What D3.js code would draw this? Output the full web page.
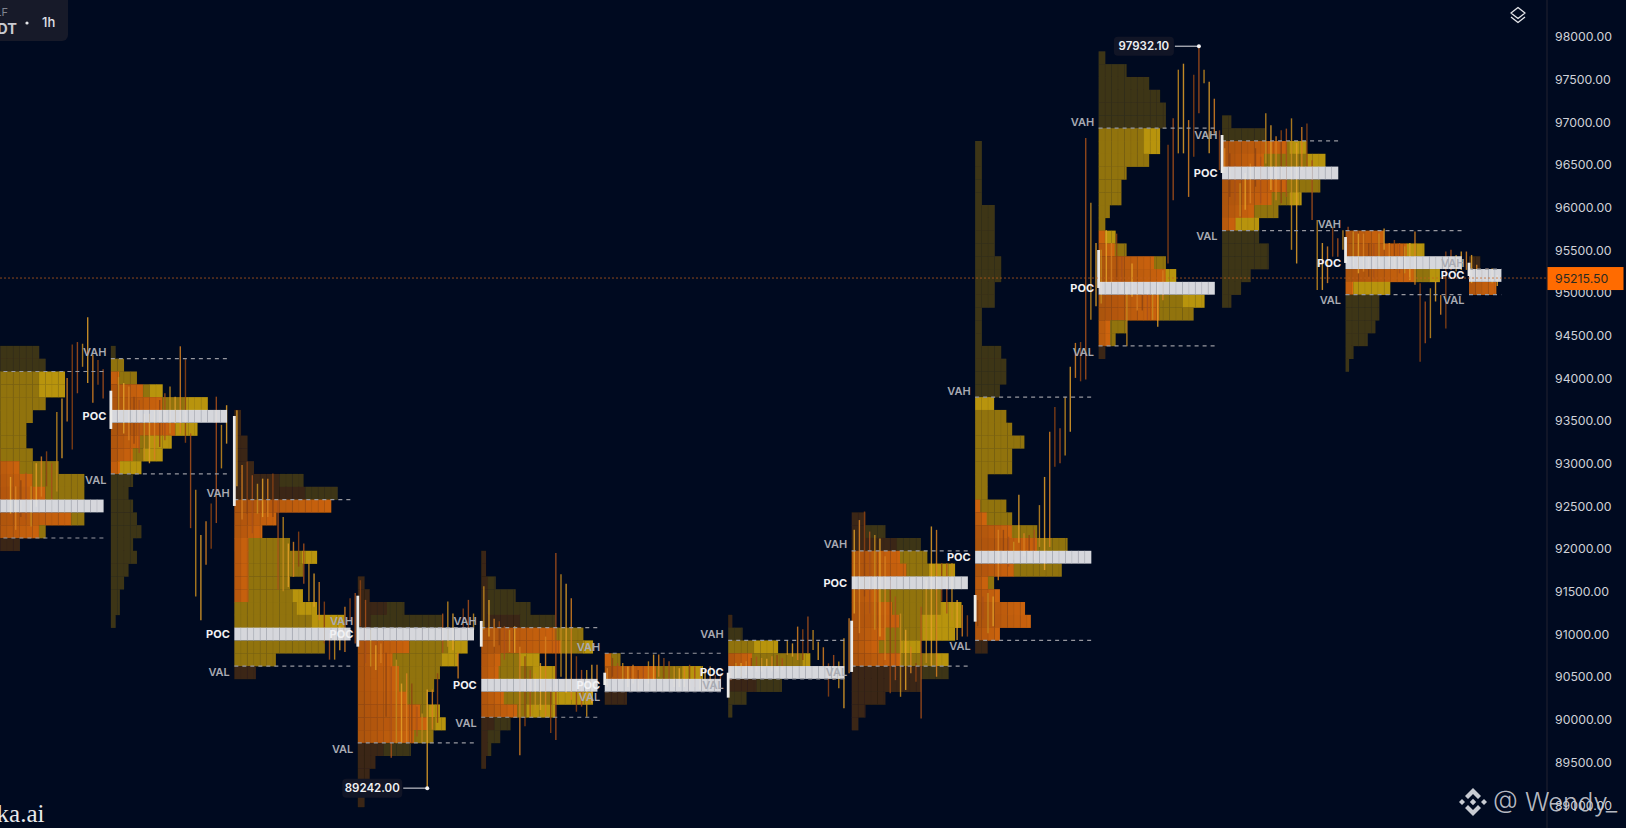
<!DOCTYPE html>
<html>
<head>
<meta charset="utf-8">
<script src="https://cdn.jsdelivr.net/npm/d3@7"></script>
<style>
  html, body { margin: 0; padding: 0; background: #000a20; overflow: hidden; }
</style>
</head>
<body>
<svg id="chart" width="1626" height="828" font-family="Inter, 'Noto Sans', sans-serif"></svg>
<script>
// axis
var tickLabels = [89000,89500,90000,90500,91000,91500,92000,92500,93000,93500,94000,94500,95000,95500,96000,96500,97000,97500,98000];
var lastPrice = 95215.5;
var sessionHighLabel = { session: 9, candle: 19, price: 97932.10 };
var sessionLowLabel = { session: 3, candle: 13, price: 89242.00 };

// price of the top edge of row 0, every row is one bin of 150
var binTop = 94265;
var binSize = 150;

// one profile per session: first row, row volumes in columns, where the orange part ends, where the gold part starts
var rowFirst = [-1,-1,4,17,15,23,20,12,-17,-24,-19,-10,-8];
var rowVol = [
  [8,9,12,12,9,7,6,6,7,11,15,15,18,15,9,5],
  [0.7,2,4,8,15,18,13.4,9.4,8,4.7,3.4,2.7,3.4,4,4.7,3.4,4,2.7,2,1.35,1.35,0.7],
  [1,1,2,2,3,10.7,16,15,6.5,4.3,8.6,12.8,10.6,8.6,10.6,12.8,17,18,14,6.4,3.3],
  [1,1.8,7.2,13.2,18,17,15.5,12.7,11.8,10.8,12.7,13.6,11.7,8.2,2.7,1.8,1.8,1],
  [0.7,0.7,2.2,5.3,7.6,11.4,15.8,17.3,9,11.4,18,17.3,11.4,4.5,2.9,1.5,0.7],
  [2.4,15.2,18,3.4],
  [0.6,2.2,7.7,12.7,18,8.3,2.8,0.6],
  [2.1,5.2,10.7,11.7,16,18,13.8,17,17,16,10.7,15,15,10.7,5.2,2.1,1],
  [1,1,1,1,1,3,3,3,3,4,4,3,3,1,1,1,4,4.8,4.8,3.8,2.9,4.8,5.7,7.6,5.7,5.7,1.9,1.9,4.8,5.7,9.6,14.3,18,13.4,2.9,3.8,7.7,8.6,3.8,1.9],
  [1,4.3,7.8,9.5,10.4,10.4,9.5,9.5,7.8,4.3,3.5,3.5,1.7,1,2.6,4.3,10.4,12,18,16.4,14.7,4.3,2.6,1],
  [1.4,6.6,13.1,16,18,15.2,12.3,8.7,5.7,5.7,7.2,7.2,4.4,2.9,1.4],
  [5.9,12.2,18,14.6,6.9,5.2,5.2,4.6,3.4,1.2,0.5],
  [1.7,5,4.2]
];
var rowOrange = [
  [0,0,0,0,0,0,0,0,2,5,7,9,0,13,8,5],
  [0,0,1.3,5,8,0,10,4.5,3.4,1.4,0,0,0,0,0,0,0,0,0,0,0,0],
  [1,1,2,2,3,7,11,15,6.5,4.3,2.2,2.2,2.2,2.2,2.2,0,0,0,0,0,3.3],
  [1,1.8,4.5,2,0,8,5.4,6.4,6.4,7.6,9.7,10.8,8.7,4,2.7,1.8,1.8,1],
  [0.7,0.7,1,1,1,6,11.4,12.4,3,2.7,0,3.5,5.6,2,1,1,0.7],
  [1,8,0,3.4],
  [0.6,0,0,3.7,0,4.4,0,0],
  [2.1,2.1,7,7.5,8.5,0,4.2,6.3,7.4,5.2,4.2,7.5,10.7,10.7,5.2,2.1,1],
  [0,0,0,0,0,0,0,0,0,0,0,0,0,0,0,0,0,0,0,0,0,0,0,0,0,0,0,0,0.8,1.8,5.7,9.6,0,6,2,3.8,7.7,8.6,3.8,1.9],
  [0,0,0,0,0,0,0,0,0,0,0,0,0,0,1,2.5,8.6,10.4,0,9.4,9.4,1.8,1.8,1],
  [0,0,10,6.5,0,10,7.7,5,2.1,0,0,0,0,0,0],
  [5.9,9.5,0,10.6,1.2,0,0,0,0,0,0],
  [1.7,0,4.2]
];
var rowGold = [
  [8,9,8,8,9,7,6,6,7,11,15,15,18,15,9,5],
  [0.7,2,4,6,11.4,18,10,6,5,1.4,3.4,2.7,3.4,4,4.7,3.4,4,2.7,2,1.35,1.35,0.7],
  [1,1,2,2,3,10.7,16,15,6.5,4.3,8.6,10.5,10.6,8.6,9,9.7,12,18,14,6.4,3.3],
  [1,1.8,7.2,13.2,18,14,13,12.7,11.8,10.8,11,12,11.7,8.2,2.7,1.8,1.8,1],
  [0.7,0.7,2.2,5.3,7.6,11.4,15.8,15.8,6,8,18,11,7,4.5,2.9,1.5,0.7],
  [2.4,12,18,3.4],
  [0.6,2.2,4,11.5,18,8.3,2.8,0.6],
  [2.1,5.2,10.7,11.7,12,18,13.8,13.8,10.7,10.7,7.5,13,15,10.7,5.2,2.1,1],
  [1,1,1,1,1,3,3,3,3,4,4,3,3,1,1,1,4,4.8,4.8,3.8,0,4.8,5.7,7.6,5.7,5.7,1.9,1.9,4.8,5.7,9.6,14.3,18,13.4,2.9,3.8,7.7,8.6,3.8,1.9],
  [1,4.3,7.8,9.5,10.4,10.4,7,7,7.8,4.3,3.5,3.5,1.7,1,1,4.3,10.4,10.4,18,13,14.7,4.3,2.6,1],
  [1.4,6.6,10.5,13,18,15.2,10.5,8.7,2.1,5.7,7.2,7.2,4.4,2.9,1.4],
  [5.9,9.5,18,13,1.2,5.2,5.2,4.6,3.4,1.2,0.5],
  [1.7,5,4.2]
];
var vahRow = [1,0,11,21,21,23,22,15,3,-18,-17,-10,-7];
var pocRow = [11,4,21,21,25,25,24,17,15,-6,-15,-8,-7];
var valRow = [14,9,24,30,28,26,25,24,22,-1,-10,-5,-5];

// session open and close, the white bar at the left of a profile
var openPrice = [null,93890,93594,91489,91193,90587,90587,91196,91497,95538,96885,95690,95389];
var closePrice = [null,93442,92540,90892,90892,90443,90295,90596,91185,95093,96440,95386,95233];

// hourly wicks per session, first candle that shows and then highs and lows
var wickFirst = [4,1,0,0,0,0,0,0,0,0,0,0,0];
var wickHigh = [
  [92880,92770,92840,92930,92770,93040,93120,93180,93040,93640,93800,94040,94430,94460,94440,94750,94310,94250,94140],
  [94050,93980,93940,93820,93780,93620,93620,93660,93780,93860,93940,93820,94410,94260,93390,92730,92200,92360,92570,93820,93490,93720],
  [93660,93020,93060,92900,92800,92860,92860,92920,92610,92410,92100,92120,92240,92100,91910,91750,91650,91420,91050,91090,91130,91360,91460,91520],
  [91670,91440,91090,90910,90930,90820,90660,90740,90460,90580,90460,90190,90110,90390,90390,90580,91280,91420,91280,90820,91340,91440,91280],
  [91600,91440,91220,91190,91130,91090,91130,90890,90780,90620,90580,90700,91010,90420,91990,91740,91630,91460,90780,90620,90620,90680,90680],
  [90640,90760,90700,90700,90660,90680,90620,90660,90720,90800,90800,90760,90720,90660,90640,90660,90680,90660,90640,90620,90660,90560,90580],
  [90680,90700,90700,90720,90760,90775,90760,90750,90780,90795,90760,90970,90930,91127,91095,91244,91088,90951,90885,90697,90795,90717,90990,91224],
  [92260,92375,92475,92240,92200,92160,91950,91670,91480,91280,91090,90890,90700,91360,91670,92300,92260,91870,91870,91870,91440,91380,91260],
  [91440,91480,91520,91480,92260,92260,92180,92120,92670,92220,92200,92260,92550,92880,93410,93700,93450,93820,94170,94450,94460,96850,96090,95620],
  [95540,95770,95620,95730,95460,95110,95380,95150,95030,95070,95030,95150,95300,96770,97080,97650,97720,97060,97590,97932.1,97650,97510,97310,96940],
  [96730,96670,96550,96320,96440,96550,96730,96630,97140,97000,96870,96940,96960,97080,96790,96980,97020,96590,95890,95620,95580,95810,95675,95770],
  [95810,95755,95730,95730,95620,95620,95730,95790,95620,95655,95620,95580,95620,95755,95150,94935,95090,95170,95010,95520,95540,95480,95520,95520],
  [95480,95365,95305,95325,95325,95245]
];
var wickLow = [
  [92450,92260,92410,92380,92300,92530,92650,92770,92610,92710,93100,93530,93200,93860,94170,93980,93750,93960,93800],
  [93550,93390,93310,93270,93160,93080,93040,93080,93230,93310,93390,93510,93390,93280,92280,91480,91200,91850,92040,92340,92980,93270],
  [92770,92380,92450,92220,92450,92410,92410,92410,91560,91540,91590,91710,91830,91630,91420,91360,91200,90930,90740,90740,90850,90830,91200,90930],
  [91130,90700,90660,90620,90700,90070,89590,89760,89760,89760,89760,89840,89760,89242,89920,90000,90820,90890,90850,90520,91090,91090,91090],
  [91090,91010,90890,90910,90740,90830,90820,89620,89960,90070,90150,90150,90070,89880,89800,90540,90350,90270,90130,90190,90070,90230,90420],
  [90420,90540,90500,90500,90420,90460,90390,90500,90460,90500,90540,90500,90500,90420,90420,90420,90390,90420,90390,90390,90420,90390,90390],
  [90500,90540,90540,90560,90620,90600,90600,90640,90600,90600,90620,90795,90775,90736,90736,90814,90853,90736,90666,90307,90502,90404,90170,90580],
  [91280,91050,91480,91280,91090,91010,90735,90345,90500,90305,90385,90580,90480,90050,90700,90660,90540,91420,91280,91200,90970,91010,91010],
  [91130,91210,91050,91130,91670,91870,91830,91910,92110,91950,91910,91910,92060,91790,92060,93000,93040,93130,93410,94040,94000,94020,94720,94880],
  [94910,95150,95150,95190,95070,94410,94990,94830,94830,94720,94720,94640,94950,95380,96120,96670,96670,96160,96630,97140,97490,96670,96900,96475],
  [96440,96160,96120,95930,96010,96085,96280,96085,96550,96240,96120,96085,96160,95540,95380,96475,96475,95890,95070,95070,95150,95460,95460,95540],
  [95380,95345,95265,95285,95225,95205,95345,95540,95345,95305,95265,95265,95185,95130,94230,94445,94505,94935,94780,94620,95305,95285,95305,95305],
  [95150,95185,95185,95170,95150,95115]
];

var width = 1626, height = 828;
var axisX = 1547;

var colorOrangeDark = "#a9520f", colorOrange = "#c9620a", colorOlive = "#917310", colorGold = "#b8940b";
var colorBrown = "#3b2615", colorDarkOlive = "#3d3518", colorPoc = "#e2e3e7";
var wickColors = ["#d88020","#a8501a","#e4a028","#8d4312","#c68b1e"];

var svg = d3.select("#chart");
svg.append("rect").attr("width", width).attr("height", height).attr("fill", "#000a20");

// the picture is a bit soft, the profile cells get the same softness
var soft = svg.append("defs").append("filter").attr("id", "soft")
  .attr("x", "-5%").attr("y", "-5%").attr("width", "110%").attr("height", "110%");
soft.append("feGaussianBlur").attr("stdDeviation", 0.35);

var y = d3.scaleLinear().domain([98000, 89000]).range([39.8, 808.2]);
var sessionX = d3.scaleLinear().domain([0, 12]).range([-12.6, 1469]);
var colX = d3.scaleLinear().domain([0, 18]).range([0, 116]);
var candleX = d3.scaleLinear().domain([0, 24]).range([0, 123.45]);

function rowTop(k) { return binTop - k * binSize; }
function rowY(k) { return y(rowTop(k)); }
var rowH = rowY(1) - rowY(0);

var sessions = d3.range(rowFirst.length);

// cells, one per column per zone
var cells = [];
var pocCells = [];
sessions.forEach(function(s) {
  rowVol[s].forEach(function(vol, n) {
    var k = rowFirst[s] + n;
    if (k === pocRow[s]) {
      d3.range(Math.ceil(vol)).forEach(function(c) {
        pocCells.push({ s: s, k: k, a: c, b: Math.min(c + 1, vol) });
      });
      return;
    }
    var inValue = k >= vahRow[s] && k < valRow[s];
    var oEnd = Math.min(rowOrange[s][n], vol);
    var gStart = Math.max(Math.min(rowGold[s][n], vol), oEnd);
    var zones = inValue
      ? [[0, oEnd, "o"], [oEnd, gStart, colorOlive], [gStart, vol, colorGold]]
      : [[0, oEnd, colorBrown], [oEnd, vol, colorDarkOlive]];
    zones.forEach(function(z) {
      if (z[1] <= z[0]) return;
      d3.range(Math.floor(z[0]), Math.ceil(z[1])).forEach(function(c) {
        var fill = z[2];
        if (fill === "o") fill = d3.interpolateRgb(colorOrangeDark, colorOrange)((c + 1) / Math.max(oEnd, 1));
        cells.push({ s: s, k: k, a: Math.max(c, z[0]), b: Math.min(c + 1, z[1]), fill: fill });
      });
    });
  });
});

svg.append("g").attr("filter", "url(#soft)").selectAll("rect")
  .data(cells)
  .enter()
  .append("rect")
    .attr("x", function(d) { return sessionX(d.s) + colX(d.a); })
    .attr("y", function(d) { return rowY(d.k); })
    .attr("width", function(d) { return colX(d.b) - colX(d.a) + 0.3; })
    .attr("height", rowH + 0.3)
    .attr("fill", function(d) { return d.fill; });

// faint column lines inside the profile
svg.append("g").selectAll("line")
  .data(cells.filter(function(d) { return d.a === Math.floor(d.a) && d.a > 0; }))
  .enter()
  .append("line")
    .attr("x1", function(d) { return sessionX(d.s) + colX(d.a); })
    .attr("x2", function(d) { return sessionX(d.s) + colX(d.a); })
    .attr("y1", function(d) { return rowY(d.k); })
    .attr("y2", function(d) { return rowY(d.k) + rowH; })
    .attr("stroke", "#000a20")
    .attr("stroke-width", 0.7)
    .attr("opacity", 0.09);

// wicks
var wicks = [];
sessions.forEach(function(s) {
  wickHigh[s].forEach(function(h, n) {
    wicks.push({ s: s, i: wickFirst[s] + n, high: h, low: wickLow[s][n] });
  });
});

svg.append("g").selectAll("line")
  .data(wicks)
  .enter()
  .append("line")
    .attr("x1", function(d) { return sessionX(d.s) + candleX(d.i + 0.5); })
    .attr("x2", function(d) { return sessionX(d.s) + candleX(d.i + 0.5); })
    .attr("y1", function(d) { return y(d.high); })
    .attr("y2", function(d) { return y(d.low); })
    .attr("stroke", function(d) { return wickColors[(d.i * 3 + d.s) % wickColors.length]; })
    .attr("stroke-width", 1.4)
    .attr("opacity", 0.85);

// POC bars
var pocG = svg.append("g").attr("opacity", 0.95);
pocG.selectAll("rect")
  .data(pocCells)
  .enter()
  .append("rect")
    .attr("x", function(d) { return sessionX(d.s) + colX(d.a); })
    .attr("y", function(d) { return rowY(d.k); })
    .attr("width", function(d) { return colX(d.b) - colX(d.a) + 0.2; })
    .attr("height", rowH)
    .attr("fill", colorPoc);
pocG.selectAll("line")
  .data(pocCells.filter(function(d) { return d.a > 0; }))
  .enter()
  .append("line")
    .attr("x1", function(d) { return sessionX(d.s) + colX(d.a); })
    .attr("x2", function(d) { return sessionX(d.s) + colX(d.a); })
    .attr("y1", function(d) { return rowY(d.k); })
    .attr("y2", function(d) { return rowY(d.k) + rowH; })
    .attr("stroke", "#a9abb3")
    .attr("stroke-width", 0.7)
    .attr("opacity", 0.55);

// VAH and VAL dashes
var levels = [];
sessions.forEach(function(s) {
  var len = d3.max(rowVol[s]);
  levels.push({ s: s, k: vahRow[s], len: len, name: "VAH" });
  levels.push({ s: s, k: valRow[s], len: len, name: "VAL" });
});

svg.append("g").selectAll("line")
  .data(levels)
  .enter()
  .append("line")
    .attr("x1", function(d) { return sessionX(d.s); })
    .attr("x2", function(d) { return sessionX(d.s) + colX(d.len); })
    .attr("y1", function(d) { return rowY(d.k); })
    .attr("y2", function(d) { return rowY(d.k); })
    .attr("stroke", "#97989f")
    .attr("stroke-width", 1.2)
    .attr("stroke-dasharray", "4 4");

// open close bars
svg.append("g").selectAll("rect")
  .data(sessions.filter(function(s) { return openPrice[s] !== null; }))
  .enter()
  .append("rect")
    .attr("x", function(s) { return sessionX(s) - 1.4; })
    .attr("y", function(s) { return y(openPrice[s]); })
    .attr("width", 2.8)
    .attr("height", function(s) { return y(closePrice[s]) - y(openPrice[s]); })
    .attr("fill", "#ecebe8");

// labels left of the profile
var labels = svg.append("g")
  .attr("font-size", 11)
  .attr("font-weight", 600)
  .attr("text-anchor", "end");

labels.selectAll(".lvl")
  .data(levels)
  .enter()
  .append("text")
    .attr("class", "lvl")
    .attr("x", function(d) { return sessionX(d.s) - 4.5; })
    .attr("y", function(d) { return rowY(d.k) + (d.name === "VAH" ? -6.3 : 5.7); })
    .attr("dy", "0.36em")
    .attr("fill", "#a9abb3")
    .text(function(d) { return d.name; });

labels.selectAll(".poc")
  .data(sessions)
  .enter()
  .append("text")
    .attr("class", "poc")
    .attr("x", function(s) { return sessionX(s) - 4.5; })
    .attr("y", function(s) { return rowY(pocRow[s]) + rowH / 2; })
    .attr("dy", "0.36em")
    .attr("fill", "#f2f2f4")
    .attr("font-weight", 700)
    .text("POC");

// last price line
svg.append("line")
  .attr("x1", 0).attr("x2", axisX)
  .attr("y1", y(lastPrice) + 0.5).attr("y2", y(lastPrice) + 0.5)
  .attr("stroke", "#c4621c")
  .attr("stroke-width", 0.9)
  .attr("stroke-opacity", 0.8)
  .attr("stroke-dasharray", "2 2");

// price axis
var axis = d3.axisRight(y)
  .tickValues(tickLabels)
  .tickSize(0)
  .tickPadding(8)
  .tickFormat(d3.format(".2f"));

var axisG = svg.append("g")
  .attr("transform", "translate(" + axisX + ",0)")
  .call(axis);
axisG.select(".domain").attr("stroke", "#171b2b").attr("stroke-width", 1.5).attr("d", "M0,0V" + height);
axisG.selectAll("text")
  .attr("font-family", "Inter")
  .attr("font-size", 12.3)
  .attr("fill", "#cfd1d8")
  .attr("transform", "translate(0,-3.1)");

// last price tag
var tag = svg.append("g").attr("transform", "translate(" + axisX + "," + y(lastPrice) + ")");
tag.append("rect").attr("x", 0.5).attr("y", -10.5).attr("width", 76).attr("height", 23).attr("fill", "#ff6b00");
tag.append("text").attr("x", 8).attr("y", 0.8).attr("dy", "0.36em").attr("font-size", 12.3).attr("fill", "#2c2a20").text(d3.format(".2f")(lastPrice));

// session high and low tags
[sessionHighLabel, sessionLowLabel].forEach(function(m) {
  var px = sessionX(m.session) + candleX(m.candle + 0.5);
  var py = y(m.price) + 0.6;
  svg.append("rect").attr("x", px - 85).attr("y", py - 9.5).attr("width", 60).attr("height", 19).attr("rx", 4).attr("fill", "#111526");
  svg.append("text").attr("x", px - 55).attr("y", py).attr("dy", "0.36em").attr("text-anchor", "middle")
    .attr("font-size", 11.5).attr("font-weight", 600).attr("fill", "#eef0f3").text(d3.format(".2f")(m.price));
  svg.append("line").attr("x1", px - 24).attr("x2", px).attr("y1", py).attr("y2", py).attr("stroke", "#e6e7ea").attr("stroke-width", 1);
  svg.append("circle").attr("cx", px).attr("cy", py).attr("r", 2).attr("fill", "#f4f4f6");
});

// symbol box, cut by the left edge in the picture
svg.append("rect").attr("x", -12).attr("y", -12).attr("width", 80).attr("height", 53).attr("rx", 6).attr("fill", "#171a29");
svg.append("text").attr("x", 8).attr("y", 16).attr("text-anchor", "end").attr("font-size", 11).attr("fill", "#7f838f").text("LF");
svg.append("text").attr("x", 17).attr("y", 34).attr("text-anchor", "end").attr("font-size", 14.5).attr("font-weight", 700).attr("fill", "#c8cad1").text("DT");
svg.append("circle").attr("cx", 27).attr("cy", 23).attr("r", 1.6).attr("fill", "#e6e7ea");
svg.append("text").attr("x", 42).attr("y", 27).attr("font-size", 13).attr("font-weight", 500).attr("fill", "#e0e2e7").text("1h");

// layers icon
var layers = svg.append("g").attr("transform", "translate(1518,15)")
  .attr("fill", "none").attr("stroke", "#e4e6ea").attr("stroke-width", 1.3).attr("stroke-linejoin", "round");
layers.append("path").attr("d", "M0,-7.5 L7,-2 L0,3.5 L-7,-2 Z");
layers.append("path").attr("d", "M-7,2 L0,7.5 L7,2");

// watermarks
svg.append("text").attr("x", 44.5).attr("y", 822).attr("text-anchor", "end")
  .attr("font-family", "Liberation Serif").attr("font-size", 25).attr("fill", "#e8e9ec").text("aka.ai");

var mark = svg.append("g").attr("transform", "translate(1473,802)").attr("fill", "#c8cbd2");
mark.append("path").attr("d", "M0,-14 L8,-6 L5,-3 L0,-8 L-5,-3 L-8,-6 Z");
mark.append("path").attr("d", "M0,14 L8,6 L5,3 L0,8 L-5,3 L-8,6 Z");
mark.append("path").attr("d", "M-14,0 L-11,-3 L-8,0 L-11,3 Z");
mark.append("path").attr("d", "M14,0 L11,-3 L8,0 L11,3 Z");
mark.append("path").attr("d", "M0,-3.2 L3.2,0 L0,3.2 L-3.2,0 Z");
svg.append("text").attr("x", 1493).attr("y", 811).attr("font-family", "Inter").attr("font-size", 25.5).attr("font-weight", 300).attr("fill", "#c8cbd2").attr("fill-opacity", 0.92).text("@ Wendy_");
</script>
</body>
</html>
